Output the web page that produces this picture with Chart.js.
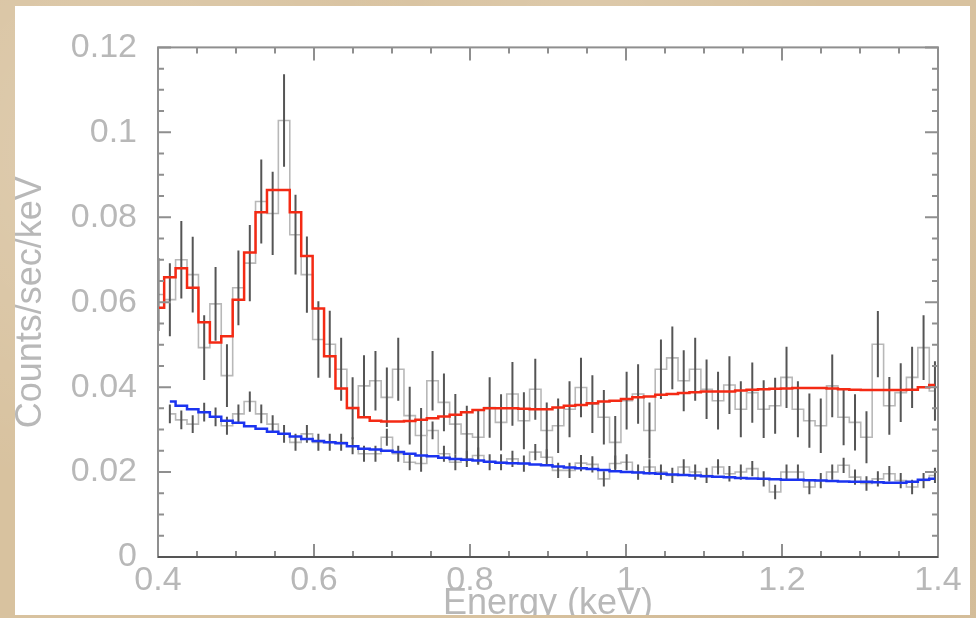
<!DOCTYPE html>
<html>
<head>
<meta charset="utf-8">
<script src="https://cdn.jsdelivr.net/npm/chart.js"></script>
<title>Spectrum 0.4-1.4 keV</title>
<style>
  html, body { margin: 0; padding: 0; }
  body {
    width: 976px; height: 618px; overflow: hidden; position: relative;
    background:
      radial-gradient(circle at 12% 25%, rgba(255,255,255,0.18), transparent 35%),
      radial-gradient(circle at 85% 75%, rgba(140,100,50,0.12), transparent 40%),
      radial-gradient(circle at 60% 5%, rgba(255,255,255,0.12), transparent 30%),
      #d8c29f;
  }
  #panel { position: absolute; left: 15px; top: 6px; width: 955px; height: 609px; background: #fff; overflow: hidden; }
  #myChart { position: absolute; left: 0; top: 0; filter: blur(0.5px); }
</style>
</head>
<body>
<div id="panel"><canvas id="myChart" width="955" height="640"></canvas></div>
<script>
// bin centres (keV)
const energy = [
  0.4006, 0.4152, 0.4299, 0.4445, 0.4592, 0.4738, 0.4884, 0.5031, 0.5177, 0.5324,
  0.5470, 0.5616, 0.5763, 0.5909, 0.6056, 0.6202, 0.6348, 0.6495, 0.6641, 0.6788,
  0.6934, 0.7080, 0.7227, 0.7373, 0.7520, 0.7666, 0.7812, 0.7959, 0.8105, 0.8252,
  0.8398, 0.8544, 0.8691, 0.8837, 0.8984, 0.9130, 0.9276, 0.9423, 0.9569, 0.9716,
  0.9862, 1.0008, 1.0155, 1.0301, 1.0448, 1.0594, 1.0740, 1.0887, 1.1033, 1.1180,
  1.1326, 1.1472, 1.1619, 1.1765, 1.1912, 1.2058, 1.2204, 1.2351, 1.2497, 1.2644,
  1.2790, 1.2936, 1.3083, 1.3229, 1.3376, 1.3522, 1.3668, 1.3815, 1.3961
];

// source spectrum (counts/sec/keV) and 1-sigma errors
const srcData = [
  0.0618, 0.0606, 0.0700, 0.0665, 0.0493, 0.0596, 0.0427, 0.0634, 0.0692, 0.0837,
  0.0809, 0.1028, 0.0759, 0.0665, 0.0512, 0.0501, 0.0442, 0.0350, 0.0403, 0.0415,
  0.0376, 0.0442, 0.0333, 0.0286, 0.0415, 0.0364, 0.0313, 0.0290, 0.0282, 0.0352,
  0.0317, 0.0384, 0.0321, 0.0395, 0.0298, 0.0309, 0.0348, 0.0399, 0.0360, 0.0329,
  0.0270, 0.0368, 0.0384, 0.0298, 0.0442, 0.0469, 0.0415, 0.0442, 0.0395, 0.0368,
  0.0405, 0.0348, 0.0387, 0.0348, 0.0356, 0.0423, 0.0348, 0.0321, 0.0309, 0.0403,
  0.0329, 0.0317, 0.0282, 0.0501, 0.0356, 0.0387, 0.0423, 0.0493, 0.0391
];
const srcErr = [
  0.0086, 0.0086, 0.0091, 0.0089, 0.0076, 0.0087, 0.0074, 0.0088, 0.0090, 0.0099,
  0.0098, 0.0109, 0.0094, 0.0090, 0.0090, 0.0079, 0.0074, 0.0073, 0.0072, 0.0070,
  0.0070, 0.0074, 0.0068, 0.0065, 0.0070, 0.0068, 0.0071, 0.0066, 0.0065, 0.0071,
  0.0066, 0.0075, 0.0067, 0.0072, 0.0066, 0.0064, 0.0066, 0.0070, 0.0068, 0.0064,
  0.0062, 0.0068, 0.0070, 0.0066, 0.0070, 0.0074, 0.0072, 0.0074, 0.0070, 0.0068,
  0.0068, 0.0066, 0.0071, 0.0068, 0.0066, 0.0072, 0.0066, 0.0064, 0.0064, 0.0074,
  0.0066, 0.0066, 0.0061, 0.0078, 0.0068, 0.0069, 0.0072, 0.0076, 0.0070
];

// background spectrum and errors (first bin not plotted)
const bkgData = [
  null,   0.0337, 0.0323, 0.0313, 0.0341, 0.0330, 0.0309, 0.0337, 0.0366, 0.0337,
  0.0313, 0.0290, 0.0270, 0.0290, 0.0270, 0.0270, 0.0270, 0.0262, 0.0243, 0.0243,
  0.0282, 0.0243, 0.0223, 0.0220, 0.0298, 0.0243, 0.0223, 0.0231, 0.0239, 0.0223,
  0.0223, 0.0231, 0.0220, 0.0247, 0.0235, 0.0204, 0.0204, 0.0221, 0.0218, 0.0184,
  0.0220, 0.0223, 0.0200, 0.0212, 0.0200, 0.0192, 0.0212, 0.0200, 0.0192, 0.0212,
  0.0196, 0.0200, 0.0208, 0.0184, 0.0153, 0.0200, 0.0200, 0.0165, 0.0180, 0.0200,
  0.0216, 0.0188, 0.0173, 0.0184, 0.0196, 0.0180, 0.0165, 0.0180, 0.0192
];
const bkgErr = [
  null,   0.0022, 0.0022, 0.0021, 0.0022, 0.0022, 0.0021, 0.0022, 0.0024, 0.0022,
  0.0021, 0.0021, 0.0020, 0.0021, 0.0020, 0.0020, 0.0020, 0.0020, 0.0019, 0.0019,
  0.0020, 0.0019, 0.0019, 0.0019, 0.0021, 0.0019, 0.0019, 0.0019, 0.0019, 0.0019,
  0.0019, 0.0019, 0.0019, 0.0019, 0.0019, 0.0018, 0.0018, 0.0019, 0.0019, 0.0018,
  0.0019, 0.0019, 0.0018, 0.0018, 0.0018, 0.0018, 0.0018, 0.0018, 0.0018, 0.0018,
  0.0018, 0.0018, 0.0018, 0.0018, 0.0017, 0.0018, 0.0018, 0.0017, 0.0018, 0.0018,
  0.0018, 0.0018, 0.0017, 0.0018, 0.0018, 0.0018, 0.0017, 0.0018, 0.0018
];

// folded models
const srcModel = [
  0.0587, 0.0659, 0.0680, 0.0634, 0.0553, 0.0505, 0.0520, 0.0606, 0.0717, 0.0812,
  0.0864, 0.0864, 0.0812, 0.0709, 0.0585, 0.0473, 0.0397, 0.0351, 0.0329, 0.0321,
  0.0319, 0.0319, 0.0320, 0.0323, 0.0327, 0.0331, 0.0335, 0.0341, 0.0346, 0.0350,
  0.0350, 0.0350, 0.0349, 0.0348, 0.0348, 0.0352, 0.0356, 0.0358, 0.0362, 0.0366,
  0.0368, 0.0372, 0.0376, 0.0378, 0.0382, 0.0384, 0.0386, 0.0388, 0.0390, 0.0390,
  0.0390, 0.0392, 0.0394, 0.0395, 0.0396, 0.0397, 0.0398, 0.0398, 0.0398, 0.0397,
  0.0395, 0.0394, 0.0393, 0.0393, 0.0393, 0.0393, 0.0394, 0.0400, 0.0405
];
const bkgModel = [
  null,   0.0366, 0.0356, 0.0348, 0.0341, 0.0330, 0.0321, 0.0316, 0.0308, 0.0302,
  0.0295, 0.0290, 0.0284, 0.0278, 0.0273, 0.0270, 0.0268, 0.0261, 0.0255, 0.0253,
  0.0250, 0.0247, 0.0243, 0.0239, 0.0237, 0.0234, 0.0231, 0.0229, 0.0227, 0.0224,
  0.0222, 0.0221, 0.0220, 0.0218, 0.0216, 0.0213, 0.0211, 0.0209, 0.0207, 0.0205,
  0.0202, 0.0200, 0.0199, 0.0197, 0.0196, 0.0194, 0.0193, 0.0192, 0.0190, 0.0189,
  0.0188, 0.0186, 0.0185, 0.0184, 0.0183, 0.0182, 0.0182, 0.0181, 0.0180, 0.0179,
  0.0178, 0.0177, 0.0177, 0.0176, 0.0175, 0.0175, 0.0177, 0.0182, 0.0184
];

const xTickLabels = ["0.4", "0.6", "0.8", "1", "1.2", "1.4"];
const yTickLabels = ["0", "0.02", "0.04", "0.06", "0.08", "0.1", "0.12"];

const X_MIN = 0.4, X_MAX = 1.4, Y_MIN = 0, Y_MAX = 0.12;
const FONT = "'Liberation Sans', Arial, sans-serif";
const LABEL_GREY = "#b8b8b8";

function points(vals) {
  return energy.map((e, i) => ({ x: e, y: vals[i] }));
}
function errBars(vals, errs) {
  const out = [];
  energy.forEach((e, i) => {
    if (vals[i] == null) return;
    out.push({ x: e, y: [vals[i] - errs[i], vals[i] + errs[i]] });
  });
  return out;
}

// frame + inward tick marks like the original plot
const frameTicks = {
  id: "frameTicks",
  afterDatasetsDraw(chart) {
    const { ctx, chartArea: a, scales: { x, y } } = chart;
    ctx.save();
    ctx.lineWidth = 2;
    ctx.strokeStyle = "#8f8f8f";
    ctx.beginPath();
    for (let i = 0; i <= 20; i++) {
      const px = x.getPixelForValue(X_MIN + i * 0.05);
      const len = i % 4 === 0 ? 13 : 6;
      ctx.moveTo(px, a.bottom); ctx.lineTo(px, a.bottom - len);
      ctx.moveTo(px, a.top); ctx.lineTo(px, a.top + len);
    }
    for (let i = 0; i <= 24; i++) {
      const py = y.getPixelForValue(i * 0.005);
      const len = i % 4 === 0 ? 13 : 6;
      ctx.moveTo(a.left, py); ctx.lineTo(a.left + len, py);
      ctx.moveTo(a.right, py); ctx.lineTo(a.right - len, py);
    }
    ctx.stroke();
    ctx.strokeRect(a.left, a.top, a.right - a.left, a.bottom - a.top);
    ctx.strokeStyle = "#555";
    ctx.beginPath();
    ctx.moveTo(a.left, a.bottom); ctx.lineTo(a.right, a.bottom);
    ctx.stroke();
    ctx.restore();
  }
};

const ctx1 = document.getElementById("myChart").getContext("2d");
new Chart(ctx1, {
  type: "line",
  data: {
    datasets: [
      {
        label: "source model",
        data: points(srcModel),
        borderColor: "#f42a14",
        borderWidth: 2.5,
        stepped: "middle",
        pointRadius: 0,
        fill: false,
        order: 1,
      },
      {
        label: "background model",
        data: points(bkgModel),
        borderColor: "#1c34f0",
        borderWidth: 2.5,
        stepped: "middle",
        pointRadius: 0,
        fill: false,
        order: 1,
      },
      {
        type: "bar",
        label: "source errors",
        data: errBars(srcData, srcErr),
        backgroundColor: "#555",
        borderWidth: 0,
        grouped: false,
        maxBarThickness: 2,
        order: 2,
      },
      {
        type: "bar",
        label: "background errors",
        data: errBars(bkgData, bkgErr),
        backgroundColor: "#555",
        borderWidth: 0,
        grouped: false,
        maxBarThickness: 2,
        order: 2,
      },
      {
        label: "source data",
        data: points(srcData),
        borderColor: "#b8b8b8",
        borderWidth: 1.6,
        stepped: "middle",
        pointRadius: 0,
        fill: false,
        order: 3,
      },
      {
        label: "background data",
        data: points(bkgData),
        borderColor: "#b8b8b8",
        borderWidth: 1.6,
        stepped: "middle",
        pointRadius: 0,
        fill: false,
        order: 3,
      },
    ],
  },
  options: {
    responsive: false,
    animation: false,
    layout: { padding: { left: 0, right: 32, top: 39, bottom: 26 } },
    scales: {
      x: {
        type: "linear",
        min: X_MIN,
        max: X_MAX,
        offset: false,
        grid: { display: false, drawTicks: false },
        border: { display: false },
        afterFit: (s) => { s.height = 63; },
        ticks: {
          stepSize: 0.2,
          autoSkip: false,
          maxRotation: 0,
          padding: 3,
          color: LABEL_GREY,
          font: { family: FONT, size: 34 },
          callback: (v, i) => xTickLabels[i],
        },
        title: {
          display: true,
          text: "Energy (keV)",
          color: LABEL_GREY,
          font: { family: FONT, size: 36, lineHeight: 1 },
          padding: { top: 0, bottom: -2 },
        },
      },
      y: {
        min: Y_MIN,
        max: Y_MAX,
        grid: { display: false, drawTicks: false },
        border: { display: false },
        afterFit: (s) => { s.width = 143; },
        ticks: {
          stepSize: 0.02,
          autoSkip: false,
          padding: 21,
          color: LABEL_GREY,
          font: { family: FONT, size: 34 },
          callback: (v, i) => yTickLabels[i],
        },
        title: {
          display: true,
          text: "Counts/sec/keV",
          color: LABEL_GREY,
          font: { family: FONT, size: 36, lineHeight: 1 },
          padding: { top: -2, bottom: 0 },
        },
      },
    },
    plugins: {
      legend: { display: false },
      tooltip: { enabled: false },
    },
  },
  plugins: [frameTicks],
});
</script>
</body>
</html>
